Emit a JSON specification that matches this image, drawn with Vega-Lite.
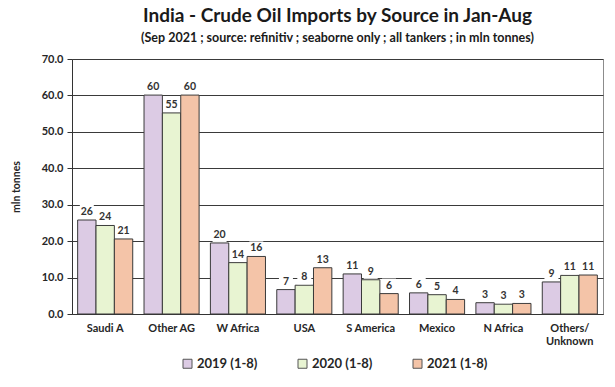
{
  "$schema": "https://vega.github.io/schema/vega-lite/v6.json",
  "width": 531,
  "height": 255,
  "autosize": "none",
  "padding": {"left": 72, "top": 59, "right": 12, "bottom": 73},
  "background": "white",
  "config": {
    "font": "Lato",
    "view": {"stroke": "#8c8c8c", "strokeWidth": 1}
  },
  "title": {
    "text": "India - Crude Oil Imports by Source in Jan-Aug",
    "subtitle": "(Sep 2021 ; source: refinitiv ; seaborne only ; all tankers ; in mln tonnes)",
    "anchor": "middle",
    "font": "Lato",
    "fontSize": 19,
    "fontWeight": "bold",
    "color": "#1a1a1a",
    "subtitleFont": "Lato",
    "subtitleFontSize": 12.5,
    "subtitleFontWeight": "bold",
    "subtitleColor": "#1a1a1a",
    "subtitlePadding": 6,
    "offset": 9
  },
  "data": {
    "values": [
      {"source": "Saudi A", "year": "2019 (1-8)", "value": 25.8},
      {"source": "Saudi A", "year": "2020 (1-8)", "value": 24.3},
      {"source": "Saudi A", "year": "2021 (1-8)", "value": 20.6},
      {"source": "Other AG", "year": "2019 (1-8)", "value": 60.1},
      {"source": "Other AG", "year": "2020 (1-8)", "value": 55.2},
      {"source": "Other AG", "year": "2021 (1-8)", "value": 60.1},
      {"source": "W Africa", "year": "2019 (1-8)", "value": 19.5},
      {"source": "W Africa", "year": "2020 (1-8)", "value": 14.1},
      {"source": "W Africa", "year": "2021 (1-8)", "value": 15.8},
      {"source": "USA", "year": "2019 (1-8)", "value": 6.7},
      {"source": "USA", "year": "2020 (1-8)", "value": 7.9},
      {"source": "USA", "year": "2021 (1-8)", "value": 12.7},
      {"source": "S America", "year": "2019 (1-8)", "value": 11.0},
      {"source": "S America", "year": "2020 (1-8)", "value": 9.4},
      {"source": "S America", "year": "2021 (1-8)", "value": 5.6},
      {"source": "Mexico", "year": "2019 (1-8)", "value": 5.8},
      {"source": "Mexico", "year": "2020 (1-8)", "value": 5.3},
      {"source": "Mexico", "year": "2021 (1-8)", "value": 4.0},
      {"source": "N Africa", "year": "2019 (1-8)", "value": 3.1},
      {"source": "N Africa", "year": "2020 (1-8)", "value": 2.7},
      {"source": "N Africa", "year": "2021 (1-8)", "value": 2.9},
      {"source": "Others/Unknown", "year": "2019 (1-8)", "value": 8.8},
      {"source": "Others/Unknown", "year": "2020 (1-8)", "value": 10.6},
      {"source": "Others/Unknown", "year": "2021 (1-8)", "value": 10.7}
    ]
  },
  "encoding": {
    "x": {
      "field": "source",
      "type": "nominal",
      "sort": null,
      "scale": {"paddingInner": 0.17, "paddingOuter": 0.085},
      "axis": {
        "title": null,
        "labelAngle": 0,
        "labelFont": "Lato",
        "labelFontSize": 11,
        "labelFontWeight": "bold",
        "labelColor": "#262626",
        "labelPadding": 8,
        "ticks": false,
        "domainColor": "#333333",
        "labelExpr": "datum.value == 'Others/Unknown' ? ['Others/', 'Unknown'] : datum.value"
      }
    },
    "xOffset": {"field": "year", "type": "nominal", "sort": null},
    "y": {
      "field": "value",
      "type": "quantitative",
      "scale": {"domain": [0, 70], "nice": false},
      "axis": {
        "title": "mln tonnes",
        "titleFont": "Lato",
        "titleFontSize": 10.5,
        "titleFontWeight": "bold",
        "titleColor": "#262626",
        "titlePadding": 20,
        "values": [0, 10, 20, 30, 40, 50, 60, 70],
        "format": ".1f",
        "labelFont": "Lato",
        "labelFontSize": 11,
        "labelFontWeight": "bold",
        "labelColor": "#262626",
        "labelPadding": 4,
        "tickSize": 5,
        "tickColor": "#333333",
        "domainColor": "#333333",
        "grid": true,
        "gridColor": "#3a3a3a",
        "gridWidth": 1
      }
    }
  },
  "layer": [
    {
      "mark": {"type": "bar", "stroke": "#3a3a3a", "strokeWidth": 1},
      "encoding": {
        "color": {
          "field": "year",
          "type": "nominal",
          "sort": null,
          "scale": {"range": ["#dccbe4", "#e8f4d2", "#f4c4a8"]},
          "legend": {
            "title": null,
            "orient": "none",
            "direction": "horizontal",
            "legendX": 109,
            "legendY": 298,
            "symbolType": "square",
            "symbolSize": 81,
            "symbolStrokeColor": "#555555",
            "symbolStrokeWidth": 1,
            "labelFont": "Lato",
            "labelFontSize": 13,
            "labelFontWeight": "bold",
            "labelColor": "#262626",
            "labelOffset": 3,
            "columnPadding": 38
          }
        }
      }
    },
    {
      "mark": {"type": "point", "shape": "square", "size": 196, "filled": true, "color": "white", "opacity": 1, "yOffset": -8, "strokeWidth": 0},
      "encoding": {}
    },
    {
      "mark": {"type": "text", "dy": -8, "font": "Lato", "fontSize": 10.5, "fontWeight": "bold", "color": "#333333"},
      "encoding": {
        "text": {"field": "value", "type": "quantitative", "format": ".0f"}
      }
    }
  ]
}
